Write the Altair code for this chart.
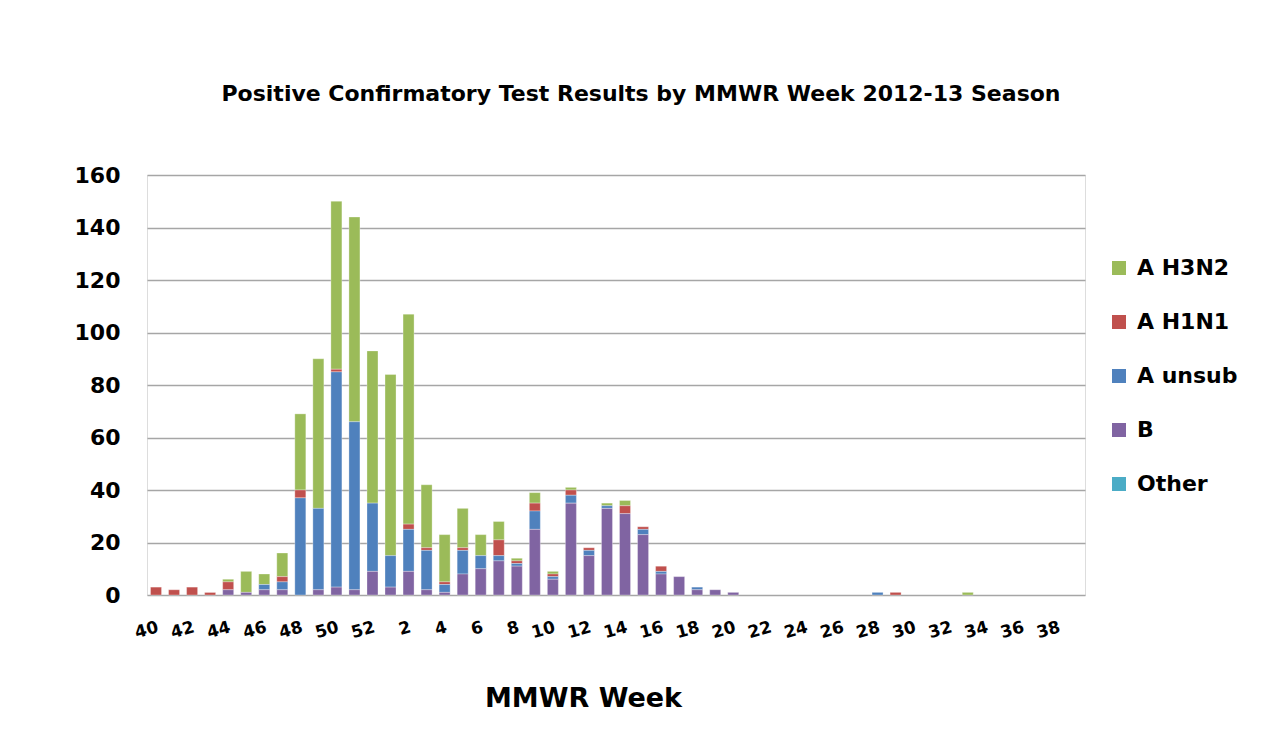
import altair as alt
import pandas as pd

# MMWR weeks of the 2012-13 season (week 40 of 2012 to week 39 of 2013)
weeks = [str(w) for w in list(range(40, 53)) + list(range(1, 40))]
tick_weeks = [str(w) for w in list(range(40, 53, 2)) + list(range(2, 40, 2))]

series_names = ["A H3N2", "A H1N1", "A unsub", "B", "Other"]
series_colors = ["#9BBB59", "#C0504D", "#4F81BD", "#8064A2", "#4BACC6"]
stack_rank = {"B": 0, "A unsub": 1, "A H1N1": 2, "A H3N2": 3, "Other": 4}

#            40 41 42 43 44 45 46 47 48  49  50  51  52
b_vals = ([0, 0, 0, 0, 2, 1, 2, 2, 0, 2, 3, 2, 9]
          #  1  2  3  4  5  6   7   8   9  10 11  12  13  14  15 16 17 18 19 20
          + [3, 9, 2, 1, 8, 10, 13, 11, 25, 6, 35, 15, 33, 31, 23, 8, 7, 2, 2, 1]
          + [0] * 19)
unsub_vals = ([0, 0, 0, 0, 0, 0, 2, 3, 37, 31, 82, 64, 26]
              + [12, 16, 15, 3, 9, 5, 2, 1, 7, 1, 3, 2, 1, 0, 2, 1, 0, 1, 0, 0]
              + [0] * 7 + [1] + [0] * 11)
h1n1_vals = ([3, 2, 3, 1, 3, 0, 0, 2, 3, 0, 1, 0, 0]
             + [0, 2, 1, 1, 1, 0, 6, 1, 3, 1, 2, 1, 0, 3, 1, 2, 0, 0, 0, 0]
             + [0] * 8 + [1] + [0] * 10)
h3n2_vals = ([0, 0, 0, 0, 1, 8, 4, 9, 29, 57, 64, 78, 58]
             + [69, 80, 24, 18, 15, 8, 7, 1, 4, 1, 1, 0, 1, 2, 0, 0, 0, 0, 0, 0]
             + [0] * 12 + [1] + [0] * 6)
other_vals = [0] * 52

series_values = {
    "A H3N2": h3n2_vals,
    "A H1N1": h1n1_vals,
    "A unsub": unsub_vals,
    "B": b_vals,
    "Other": other_vals,
}

rows = []
for name, vals in series_values.items():
    for wk, v in zip(weeks, vals):
        if v > 0:
            rows.append({"week": wk, "series": name, "count": v, "rank": stack_rank[name]})
df = pd.DataFrame(rows)

FONT = "DejaVu Sans"

bars = alt.Chart(df).mark_bar(stroke="white", strokeWidth=0.5, strokeOpacity=0.6).encode(
    x=alt.X("week:N", sort=weeks,
            scale=alt.Scale(domain=weeks, paddingInner=0.39, paddingOuter=0.195),
            axis=alt.Axis(values=tick_weeks, labelAngle=345, ticks=False, domain=False,
                          labelFont=FONT, labelFontSize=17, labelFontWeight="bold",
                          labelColor="black", labelPadding=24,
                          title="MMWR Week", titleFont=FONT, titleFontSize=27,
                          titleFontWeight="bold", titleColor="black",
                          titleX=436, titleY=103, titleAlign="center",
                          titleBaseline="middle")),
    y=alt.Y("sum(count):Q",
            scale=alt.Scale(domain=[0, 160], nice=False),
            axis=alt.Axis(values=list(range(0, 161, 20)), ticks=False, domain=False,
                          labelFont=FONT, labelFontSize=22, labelFontWeight="bold",
                          labelColor="black", labelPadding=27, title=None,
                          gridColor="#A6A6A6", gridWidth=1.5)),
    color=alt.Color("series:N",
                    scale=alt.Scale(domain=series_names, range=series_colors),
                    legend=alt.Legend(title=None, orient="none", legendX=961, legendY=82,
                                      symbolType="square", symbolSize=196,
                                      symbolStrokeWidth=0, labelFont=FONT,
                                      labelFontSize=22, labelFontWeight="bold",
                                      labelColor="black", labelOffset=7,
                                      rowPadding=32)),
    order=alt.Order("rank:Q", sort="ascending"),
)

chart = bars.properties(
    width=938,
    height=420,
    title=alt.TitleParams(
        "Positive Confirmatory Test Results by MMWR Week 2012-13 Season",
        font=FONT, fontSize=22, fontWeight="bold", color="black",
        anchor="middle", dx=25, offset=58,
    ),
    autosize=alt.AutoSizeParams(type="none"),
    padding={"left": 139, "top": 167, "right": 180, "bottom": 120},
).configure_view(
    stroke="#A6A6A6", strokeWidth=1.5
).configure(background="white")

chart.save("out.html", embed_options={"renderer": "svg", "actions": False})
